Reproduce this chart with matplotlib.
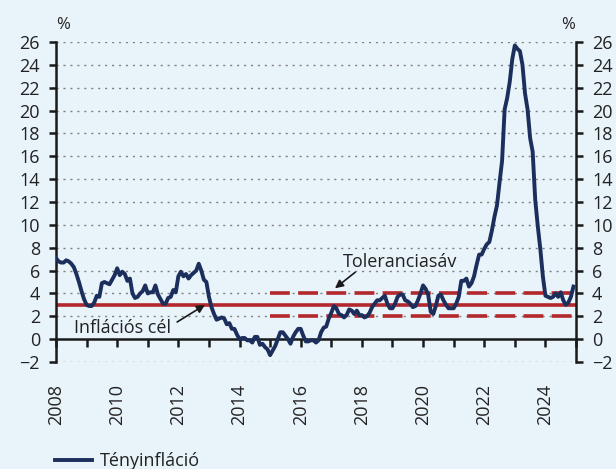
import numpy as np
import matplotlib
matplotlib.use("Agg")
import matplotlib.pyplot as plt
import matplotlib.transforms as mtransforms
from matplotlib.ticker import FixedLocator, MultipleLocator

plt.rcParams['font.family'] = ['Open Sans', 'DejaVu Sans']

start_year = 2008
inflation = [
    # 2008
    7.1, 6.8, 6.7, 6.7, 6.9, 6.8, 6.6, 6.3, 5.7, 5.0, 4.2, 3.5,
    # 2009
    3.0, 2.9, 2.9, 3.2, 3.8, 3.7, 4.9, 5.0, 4.9, 4.8, 5.2, 5.6,
    # 2010
    6.2, 5.6, 5.9, 5.7, 5.1, 5.3, 4.0, 3.6, 3.7, 4.0, 4.2, 4.7,
    # 2011
    4.0, 4.1, 4.1, 4.7, 3.9, 3.5, 3.1, 3.1, 3.6, 3.7, 4.3, 4.1,
    # 2012
    5.5, 5.9, 5.5, 5.7, 5.3, 5.6, 5.8, 6.0, 6.6, 6.0, 5.2, 5.0,
    # 2013
    3.7, 2.8, 2.2, 1.7, 1.8, 1.9, 1.8, 1.3, 1.4, 0.9, 0.9, 0.4,
    # 2014
    0.0, 0.1, 0.1, -0.1, -0.1, -0.3, 0.2, 0.2, -0.5, -0.4, -0.7, -0.9,
    # 2015
    -1.4, -1.0, -0.6, 0.0, 0.6, 0.6, 0.3, 0.0, -0.4, 0.2, 0.6, 0.9,
    # 2016
    0.9, 0.3, -0.2, -0.2, -0.1, -0.1, -0.3, -0.1, 0.6, 1.0, 1.1, 1.8,
    # 2017
    2.3, 2.9, 2.7, 2.2, 2.1, 1.9, 2.1, 2.6, 2.5, 2.2, 2.5, 2.1,
    # 2018
    2.1, 1.9, 2.0, 2.3, 2.8, 3.1, 3.4, 3.4, 3.6, 3.8, 3.1, 2.7,
    # 2019
    2.7, 3.1, 3.7, 3.9, 3.9, 3.4, 3.3, 3.1, 2.8, 2.9, 3.4, 4.0,
    # 2020
    4.7, 4.4, 3.9, 2.4, 2.2, 2.9, 3.8, 3.9, 3.4, 3.0, 2.7, 2.7,
    # 2021
    2.7, 3.1, 3.7, 5.1, 5.1, 5.3, 4.6, 4.9, 5.5, 6.5, 7.4, 7.4,
    # 2022
    7.9, 8.3, 8.5, 9.5, 10.7, 11.7, 13.7, 15.6, 20.1, 21.1, 22.5, 24.5,
    # 2023
    25.7, 25.4, 25.2, 24.0, 21.5, 20.1, 17.6, 16.4, 12.2, 9.9, 7.9, 5.5,
    # 2024
    3.8, 3.7, 3.6, 3.7, 4.0, 3.7, 4.1, 3.4, 3.0, 3.2, 3.7, 4.6,
]
target = 3.0
band_low, band_high = 2.0, 4.0
band_start = 2015
x_start, x_end = 2008, 2025
y_ticks = list(range(-2, 27, 2))
year_labels = list(range(2008, 2025, 2))

bg = '#e9f3fa'
navy = '#1b2e5c'
red = '#b3282d'
txt = '#222222'
fs = 13

dates = start_year + np.arange(len(inflation)) / 12.0

fig = plt.figure(figsize=(6.16, 4.69), dpi=100, facecolor=bg)
ax = fig.add_axes([56/616, 1 - 362/469, (576-56)/616, (362-42)/469])
ax.set_facecolor(bg)

ax.spines['top'].set_visible(False)
ax.spines['bottom'].set_position(('data', 0))
for s in ['left', 'right', 'bottom']:
    ax.spines[s].set_linewidth(1.8)
    ax.spines[s].set_color('#1a1a1a')

ax.set_xlim(x_start, x_end)
ax.set_ylim(-2, 26)

# grid
for v in y_ticks:
    if v != 0:
        ax.axhline(v, color='#808080', lw=1.0, ls=(0, (1.5, 3.5)), zorder=1)

# target and band
ax.hlines(target, x_start, x_end, color=red, lw=2.6, zorder=2)
ax.hlines([band_low, band_high], band_start, x_end, color=red, lw=2.6,
          linestyles=(0, (5.5, 2.3)), zorder=2)

line, = ax.plot(dates, inflation, color=navy, lw=2.8, zorder=3,
                label='Tényinfláció', solid_joinstyle='round')

ax.yaxis.set_major_locator(FixedLocator(y_ticks))
ax.set_yticklabels(['\u2212' + str(-v) if v < 0 else str(v) for v in y_ticks])
ax.tick_params(axis='y', which='both', direction='out', length=5, width=1.8,
               color='#1a1a1a', labelsize=fs, labelcolor=txt,
               left=True, right=True, labelleft=True, labelright=True, pad=6.5)

ax.xaxis.set_major_locator(MultipleLocator(1))
ax.tick_params(axis='x', which='both', direction='out', length=6, width=1.8,
               color='#1a1a1a', labelbottom=False)

# rotated year labels below the plot
trans = mtransforms.blended_transform_factory(ax.transData, ax.transAxes)
label_y = 1 - (384 - 42) / (362 - 42)
for y in year_labels:
    ax.text(y, label_y, str(y), rotation=90, rotation_mode='default',
            ha='center', va='top', fontsize=fs, color=txt, transform=trans,
            clip_on=False)

# percent signs
fig.text(63/616, 1 - 25/469, '%', fontsize=12, color=txt, ha='center', va='center')
fig.text(568/616, 1 - 25/469, '%', fontsize=12, color=txt, ha='center', va='center')

# annotations
arrow = dict(arrowstyle='-|>', color='#1a1a1a', lw=1.2, mutation_scale=12,
             shrinkA=0, shrinkB=0)
ax.text(2019.25, 6.75, 'Toleranciasáv', fontsize=fs, color=txt,
        ha='center', va='center', zorder=5)
ax.annotate('', xy=(2017.12, 4.45), xytext=(2017.78, 5.85),
            arrowprops=arrow, zorder=5)
ax.text(2010.19, 0.98, 'Inflációs cél', fontsize=fs, color=txt,
        ha='center', va='center', zorder=5)
ax.annotate('', xy=(2012.87, 3.0), xytext=(2011.96, 1.5),
            arrowprops=arrow, zorder=5)

leg = fig.legend(handles=[line], loc='center left',
                 bbox_to_anchor=(55/616, 1 - 461/469), frameon=False,
                 fontsize=fs, handlelength=2.05, handletextpad=0.45,
                 borderpad=0, borderaxespad=0)
for t in leg.get_texts():
    t.set_color(txt)

fig.savefig('out.png', dpi=100, facecolor=bg)
